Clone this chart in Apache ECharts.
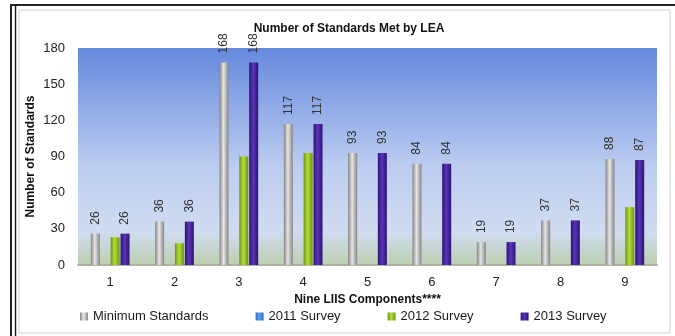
<!DOCTYPE html>
<html>
<head>
<meta charset="utf-8">
<script src="https://cdn.jsdelivr.net/npm/echarts@6/dist/echarts.min.js"></script>
<style>
html, body { margin: 0; padding: 0; background: #fff; }
#chart { width: 675px; height: 336px; }
</style>
</head>
<body>
<div id="chart"></div>
<script>
// data
const components = ['1', '2', '3', '4', '5', '6', '7', '8', '9']
const minimumStandards = [26, 36, 168, 117, 93, 84, 19, 37, 88]
const survey2011 = [null, null, null, null, null, null, null, null, null]
const survey2012 = [23, 18, 90, 93, null, null, null, null, 48]
const survey2013 = [26, 36, 168, 117, 93, 84, 19, 37, 87]
const yTicks = [0, 30, 60, 90, 120, 150, 180]

const font = '"Liberation Sans", Arial, sans-serif'

// horizontal gradient to give the bars a rounded look
function cyl(dark, light) {
	return new echarts.graphic.LinearGradient(0, 0, 1, 0, [
		{ offset: 0, color: dark },
		{ offset: 0.45, color: light },
		{ offset: 1, color: dark }
	])
}

const valueLabel = {
	show: true,
	position: 'top',
	rotate: 90,
	align: 'left',
	verticalAlign: 'middle',
	distance: 9,
	color: '#333',
	fontSize: 12,
	fontFamily: font
}

const chart = echarts.init(document.getElementById('chart'))
const option = {
	animation: false,
	title: {
		text: 'Number of Standards Met by LEA',
		left: 344,
		textAlign: 'center',
		top: 18,
		textStyle: { fontSize: 12, fontWeight: 'bold', color: '#111', fontFamily: font }
	},
	graphic: [
		{ type: 'rect', shape: { x: 19, y: 10, width: 651, height: 323 }, style: { fill: 'none', stroke: '#d0d0d0', lineWidth: 1 } },
		{ type: 'line', shape: { x1: 10, y1: 5, x2: 675, y2: 5 }, style: { stroke: '#222', lineWidth: 2 } },
		{ type: 'line', shape: { x1: 11, y1: 5, x2: 11, y2: 336 }, style: { stroke: '#222', lineWidth: 2 } },
		{ type: 'line', shape: { x1: 15.5, y1: 5, x2: 15.5, y2: 336 }, style: { stroke: '#222', lineWidth: 1.5 } }
	],
	legend: {
		bottom: 8,
		left: 75,
		itemWidth: 8,
		itemHeight: 8,
		itemGap: 47,
		icon: 'rect',
		textStyle: { fontSize: 13, color: '#1a1a1a', fontFamily: font },
		data: ['Minimum Standards', '2011 Survey', '2012 Survey', '2013 Survey']
	},
	grid: {
		left: 78,
		right: 18,
		top: 48,
		bottom: 71,
		show: true,
		borderWidth: 0,
		backgroundColor: new echarts.graphic.LinearGradient(0, 0, 0, 1, [
			{ offset: 0, color: '#6689de' },
			{ offset: 0.55, color: '#bccdf0' },
			{ offset: 0.85, color: '#d0dcf0' },
			{ offset: 1, color: '#bccfb0' }
		])
	},
	xAxis: {
		type: 'category',
		data: components,
		name: 'Nine LIIS Components****',
		nameLocation: 'middle',
		nameGap: 26,
		nameTextStyle: { fontSize: 12, fontWeight: 'bold', color: '#111', fontFamily: font },
		axisLine: { lineStyle: { color: '#aab4a0', width: 2 } },
		axisTick: { show: false },
		axisLabel: { fontSize: 13, color: '#222', margin: 11, fontFamily: font }
	},
	yAxis: {
		type: 'value',
		min: yTicks[0],
		max: yTicks[yTicks.length - 1],
		interval: 30,
		name: 'Number of Standards',
		nameLocation: 'middle',
		nameGap: 41,
		nameMoveOverlap: false,
		nameTextStyle: { fontSize: 12, fontWeight: 'bold', color: '#111', fontFamily: font },
		axisLine: { show: false },
		axisTick: { show: false },
		splitLine: { show: false },
		axisLabel: { fontSize: 13, color: '#222', margin: 13, fontFamily: font }
	},
	series: [
		{
			name: 'Minimum Standards',
			type: 'bar',
			data: minimumStandards,
			barWidth: 9,
			barGap: '10%',
			itemStyle: { color: cyl('#858585', '#e6e6e6') },
			label: valueLabel
		},
		{
			name: '2011 Survey',
			type: 'bar',
			data: survey2011,
			barWidth: 9,
			itemStyle: { color: cyl('#2b6cc4', '#5aa0ea') }
		},
		{
			name: '2012 Survey',
			type: 'bar',
			data: survey2012,
			barWidth: 9,
			itemStyle: { color: cyl('#6a9612', '#b5dc3c') }
		},
		{
			name: '2013 Survey',
			type: 'bar',
			data: survey2013,
			barWidth: 9,
			itemStyle: { color: cyl('#2c1278', '#5b35b5') },
			label: valueLabel
		}
	]
}
chart.setOption(option)
</script>
</body>
</html>
